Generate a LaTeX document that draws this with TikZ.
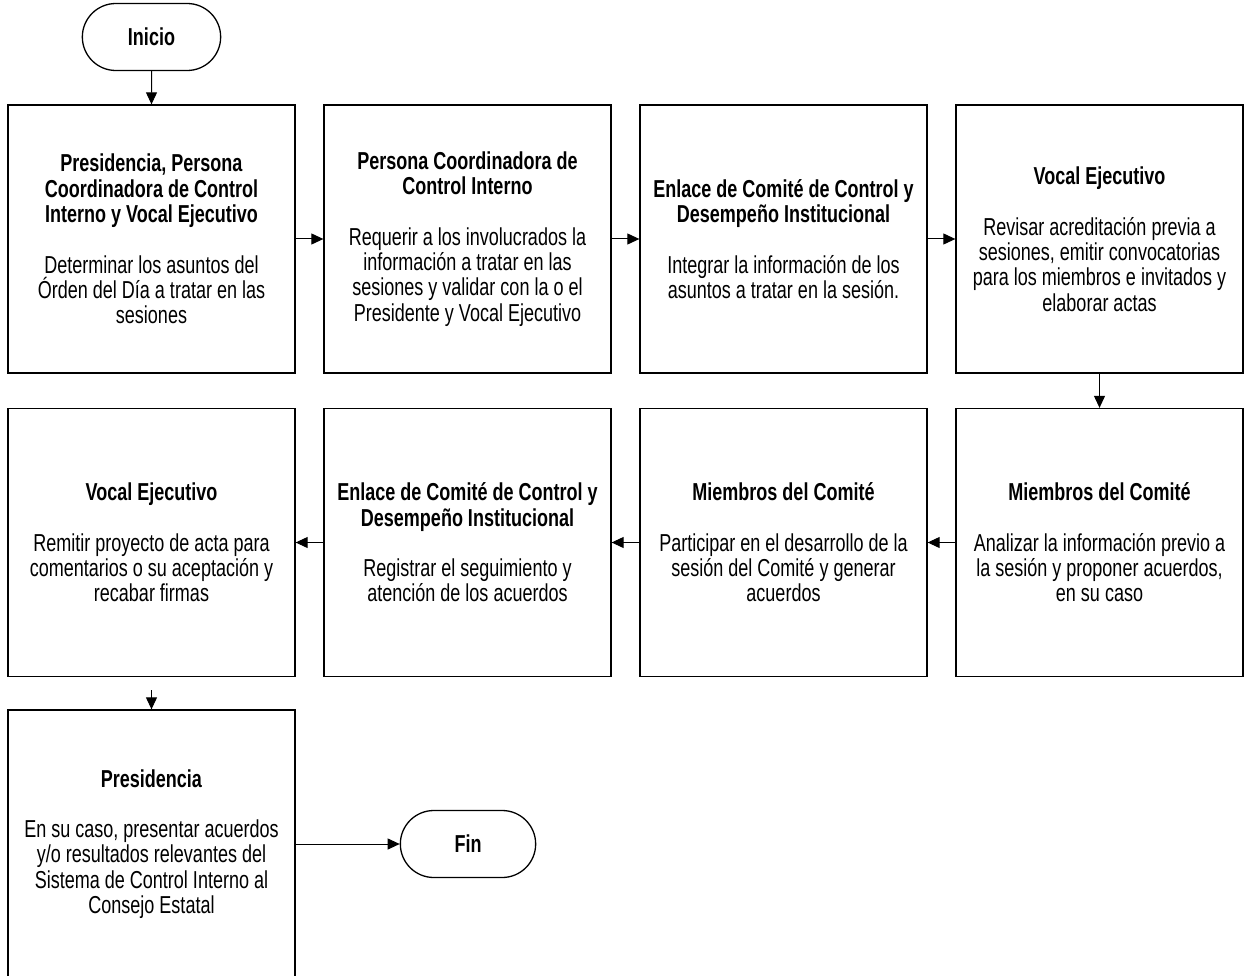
\documentclass[tikz,border=0pt]{standalone}
\usepackage{fontspec}
\setmainfont[FakeStretch=0.735]{Liberation Sans}
\usetikzlibrary{positioning}
\usetikzlibrary{arrows.meta,shapes}
\usetikzlibrary{calc}

\tikzset{
  paso/.style={draw, line width=1.3pt, minimum width=287pt, minimum height=268pt,
    inner sep=0pt, align=center, font=\fontsize{24.5}{25.3}\selectfont},
  terminal/.style={draw, line width=1.3pt, rounded rectangle, minimum width=145pt,
    minimum height=67pt, font=\bfseries\fontsize{24.5}{25.3}\selectfont},
  flecha/.style={line width=1pt, -{Triangle[length=12pt,width=11pt]}},
}

\begin{document}
\begin{tikzpicture}[x=1pt, y=-1pt]
  \useasboundingbox (0,0) rectangle (1244,976);

	\def\dx{316};
	\def\xa{151.5};
	\def\ya{239};
	\def\yb{542.5};
	\def\yc{844};

%inicio
    \node[terminal] (inicio) at (\xa, 37) {Inicio};

%fila 1
    \node[paso] (p1) at (\xa, \ya) {\textbf{Presidencia, Persona}\\\textbf{Coordinadora de Control}\\\textbf{Interno y Vocal Ejecutivo}\\[25.3pt]
      Determinar los asuntos del\\Órden del Día a tratar en las\\sesiones};
    \node[paso] (p2) at (\xa+\dx, \ya) {\textbf{Persona Coordinadora de}\\\textbf{Control Interno}\\[25.3pt]
      Requerir a los involucrados la\\información a tratar en las\\sesiones y validar con la o el\\Presidente y Vocal Ejecutivo};
    \node[paso] (p3) at (\xa+2*\dx, \ya) {\textbf{Enlace de Comité de Control y}\\\textbf{Desempeño Institucional}\\[25.3pt]
      Integrar la información de los\\asuntos a tratar en la sesión.};
    \node[paso] (p4) at (\xa+3*\dx, \ya) {\textbf{Vocal Ejecutivo}\\[25.3pt]
      Revisar acreditación previa a\\sesiones, emitir convocatorias\\para los miembros e invitados y\\elaborar actas};

%fila 2
    \node[paso] (p5) at (\xa+3*\dx, \yb) {\textbf{Miembros del Comité}\\[25.3pt]
      Analizar la información previo a\\la sesión y proponer acuerdos,\\en su caso};
    \node[paso] (p6) at (\xa+2*\dx, \yb) {\textbf{Miembros del Comité}\\[25.3pt]
      Participar en el desarrollo de la\\sesión del Comité y generar\\acuerdos};
    \node[paso] (p7) at (\xa+\dx, \yb) {\textbf{Enlace de Comité de Control y}\\\textbf{Desempeño Institucional}\\[25.3pt]
      Registrar el seguimiento y\\atención de los acuerdos};
    \node[paso] (p8) at (\xa, \yb) {\textbf{Vocal Ejecutivo}\\[25.3pt]
      Remitir proyecto de acta para\\comentarios o su aceptación y\\recabar firmas};

%fila 3
    \node[paso] (p9) at (\xa, \yc) {\textbf{Presidencia}\\[25.3pt]
      En su caso, presentar acuerdos\\y/o resultados relevantes del\\Sistema de Control Interno al\\Consejo Estatal};
    \node[terminal, minimum width=142pt] (fin) at (468, \yc) {Fin};

%flechas
    \draw[flecha] (inicio) -- (p1);
    \foreach \a/\b in {p1/p2, p2/p3, p3/p4, p4/p5, p5/p6, p6/p7, p7/p8, p9/fin} {
         \draw[flecha] (\a) -- (\b);
    }
    \coordinate (c8) at (\xa, 690);
    \draw[flecha] (c8) -- (p9);

\end{tikzpicture}
\end{document}
